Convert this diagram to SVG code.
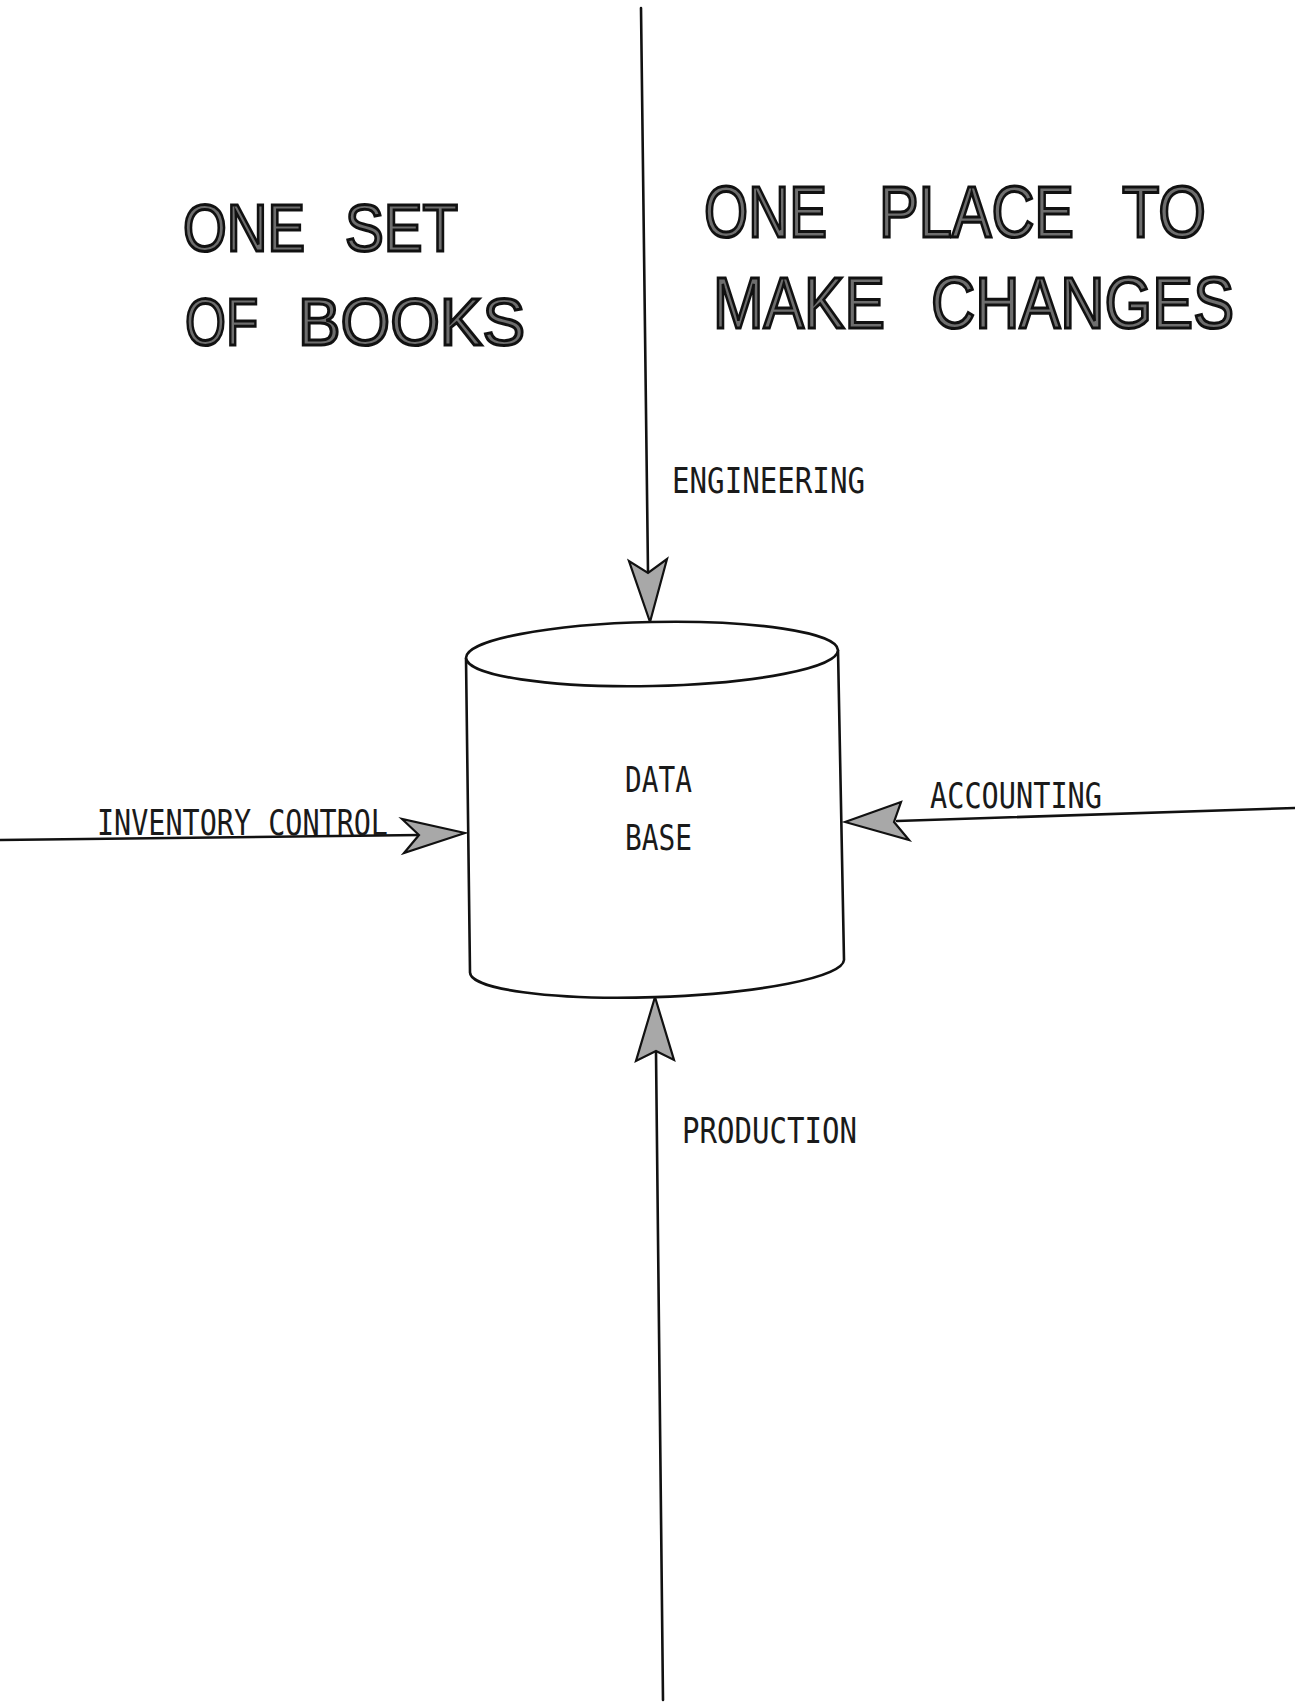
<svg xmlns="http://www.w3.org/2000/svg" width="1295" height="1702" viewBox="0 0 1295 1702">
  <style>
    .title { font-family: "Liberation Sans", Arial, sans-serif; fill: #6e6e6e; stroke: #111; stroke-width: 3; paint-order: fill; }
    .label { font-family: "DejaVu Sans Mono", "Liberation Mono", monospace; font-size: 36px; fill: #1a1a1a; }
    .wire { fill: none; stroke: #111; stroke-width: 2.6; stroke-linecap: round; }
    .head { fill: #a8a8a8; stroke: #111; stroke-width: 2.2; stroke-linejoin: miter; }
    .drum { fill: #fff; stroke: #111; stroke-width: 2.6; }
  </style>
  <rect width="1295" height="1702" fill="#fff"/>

  <!-- Headings -->
  <g id="heading-left">
    <text class="title" font-size="66" x="183" y="251" textLength="122" lengthAdjust="spacingAndGlyphs">ONE</text>
    <text class="title" font-size="66" x="345" y="251" textLength="113" lengthAdjust="spacingAndGlyphs">SET</text>
    <text class="title" font-size="66" x="185" y="345" textLength="73" lengthAdjust="spacingAndGlyphs">OF</text>
    <text class="title" font-size="66" x="298" y="345" textLength="227" lengthAdjust="spacingAndGlyphs">BOOKS</text>
  </g>
  <g id="heading-right">
    <text class="title" font-size="72" x="704" y="237" textLength="123" lengthAdjust="spacingAndGlyphs">ONE</text>
    <text class="title" font-size="72" x="879" y="237" textLength="195" lengthAdjust="spacingAndGlyphs">PLACE</text>
    <text class="title" font-size="72" x="1122" y="237" textLength="84" lengthAdjust="spacingAndGlyphs">TO</text>
    <text class="title" font-size="72" x="713" y="328" textLength="172" lengthAdjust="spacingAndGlyphs">MAKE</text>
    <text class="title" font-size="72" x="931" y="328" textLength="303" lengthAdjust="spacingAndGlyphs">CHANGES</text>
  </g>

  <!-- Connectors: four feeds into the data base -->
  <g id="connectors">
    <g id="feed-engineering">
      <path class="wire" d="M641,8 L648,572"/>
      <path class="head" d="M650,622 L629,561 L648,573 L667,559 Z"/>
    </g>
    <g id="feed-inventory">
      <path class="wire" d="M0,840 L420,835"/>
      <path class="head" d="M465,833 L402,819 L419,835 L404,853 Z"/>
    </g>
    <g id="feed-accounting">
      <path class="wire" d="M1295,808 L897,821"/>
      <path class="head" d="M845,822 L901,802 L894,822 L909,840 Z"/>
    </g>
    <g id="feed-production">
      <path class="wire" d="M663,1700 L656,1052"/>
      <path class="head" d="M655,997 L636,1061 L656,1051 L674,1060 Z"/>
    </g>
  </g>

  <!-- Data base drum -->
  <g id="database">
    <path class="drum" d="M466,658 L470,972 A187 31 -2 0 0 844,960 L838,650"/>
    <ellipse class="drum" cx="652" cy="654" rx="186" ry="32" transform="rotate(-1.2 652 654)"/>
    <text class="label" x="625" y="792" textLength="67" lengthAdjust="spacingAndGlyphs">DATA</text>
    <text class="label" x="625" y="850" textLength="67" lengthAdjust="spacingAndGlyphs">BASE</text>
  </g>

  <!-- Feed labels -->
  <g id="label-engineering">
    <text class="label" x="672" y="493" textLength="193" lengthAdjust="spacingAndGlyphs">ENGINEERING</text>
  </g>
  <g id="label-inventory">
    <text class="label" x="97" y="835" textLength="291" lengthAdjust="spacingAndGlyphs">INVENTORY CONTROL</text>
  </g>
  <g id="label-accounting">
    <text class="label" x="930" y="808" textLength="172" lengthAdjust="spacingAndGlyphs">ACCOUNTING</text>
  </g>
  <g id="label-production">
    <text class="label" x="682" y="1143" textLength="175" lengthAdjust="spacingAndGlyphs">PRODUCTION</text>
  </g>
</svg>
